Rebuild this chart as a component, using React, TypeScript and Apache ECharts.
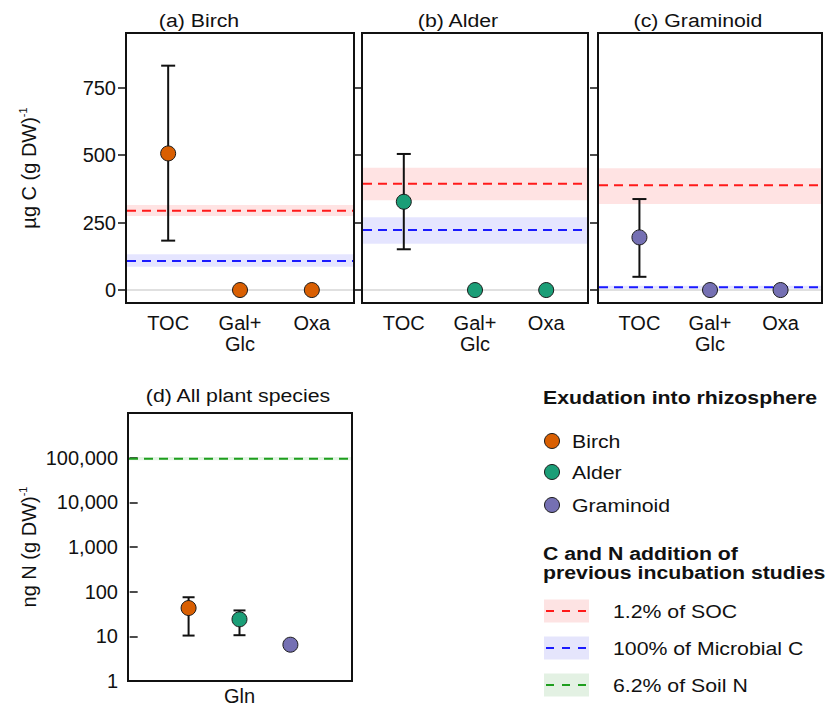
import React, { useEffect, useRef } from "react";
import * as echarts from "echarts";

// ---------- data ----------
const carbonCats = ["TOC", "Gal+\nGlc", "Oxa"];
const panelTitles = ["(a) Birch", "(b) Alder", "(c) Graminoid", "(d) All plant species"];
const species = ["Birch", "Alder", "Graminoid"];
const speciesColors = ["#D95F02", "#1B9E77", "#7570B3"];

// carbon exudation per panel (TOC, Gal+Glc, Oxa)
const birchC = [506, 0, 0];
const alderC = [327, 0, 0];
const graminoidC = [195, 0, 0];
const carbonMeans = [birchC, alderC, graminoidC];
// TOC error bars per species
const tocLow = [183, 151, 49];
const tocHigh = [831, 504, 337];

// reference lines per panel: 1.2% of SOC
const socMid = [294, 394, 388];
const socLow = [274, 333, 319];
const socHigh = [315, 453, 451];
// 100% of microbial C
const micMid = [108, 222, 10];
const micLow = [86, 171, 5];
const micHigh = [133, 270, 16];

// nitrogen (Gln) per species
const glnMean = [43, 24, 6.5];
const glnLow = [10.4, 10.6, null];
const glnHigh = [75, 38, null];
// 6.2% of soil N
const soilNMid = 95000;
const soilNLow = 88000;
const soilNHigh = 103000;

const cTicks = [0, 250, 500, 750];
const nTicks = [1, 10, 100, 1000, 10000, 100000];

const FONT = "Liberation Sans, Arial, Helvetica, sans-serif";
const TXT = "#111";
const RED = "#FF1A1A";
const BLUE = "#1A1AFF";
const GREEN = "#1E9E1E";
const RED_BAND = "rgba(255,0,0,0.11)";
const BLUE_BAND = "rgba(0,0,255,0.10)";
const GREEN_BAND = "rgba(0,150,0,0.10)";
const AX_FS = 20;

const grids = [
  { left: 126, top: 33, width: 228, height: 270 },
  { left: 362, top: 33, width: 226, height: 270 },
  { left: 598, top: 33, width: 224, height: 270 },
  { left: 128, top: 413, width: 224, height: 268 },
];

function refRender(color: string, band: string) {
  return (params: any, api: any) => {
    const cs = params.coordSys;
    const x = api.value(0);
    const yLo = api.coord([x, api.value(1)])[1];
    const yMid = api.coord([x, api.value(2)])[1];
    const yHi = api.coord([x, api.value(3)])[1];
    return {
      type: "group",
      children: [
        {
          type: "rect",
          shape: { x: cs.x + 1, y: Math.min(yLo, yHi), width: cs.width - 2, height: Math.abs(yLo - yHi) },
          style: { fill: band },
        },
        {
          type: "line",
          shape: { x1: cs.x + 1, y1: yMid, x2: cs.x + cs.width - 1, y2: yMid },
          style: { stroke: color, lineWidth: 2, lineDash: [9, 6] },
        },
      ],
    };
  };
}

function zeroRender(params: any, api: any) {
  const cs = params.coordSys;
  const y = api.coord([api.value(0), api.value(1)])[1];
  return {
    type: "line",
    shape: { x1: cs.x + 1, y1: y, x2: cs.x + cs.width - 1, y2: y },
    style: { stroke: "#d6d6d6", lineWidth: 1.5 },
  };
}

function errRender(hw: number) {
  return (params: any, api: any) => {
    const x = api.value(0);
    const top = api.coord([x, api.value(2)]);
    const bot = api.coord([x, api.value(1)]);
    const st = { stroke: "#111", lineWidth: 2 };
    return {
      type: "group",
      children: [
        { type: "line", shape: { x1: top[0], y1: top[1], x2: bot[0], y2: bot[1] }, style: st },
        { type: "line", shape: { x1: top[0] - hw, y1: top[1], x2: top[0] + hw, y2: top[1] }, style: st },
        { type: "line", shape: { x1: bot[0] - hw, y1: bot[1], x2: bot[0] + hw, y2: bot[1] }, style: st },
      ],
    };
  };
}

function buildOption() {
  const yName = (t: string) => `{n|${t}}{s|-1}`;
  const nameRich = {
    n: { fontSize: 20, fontFamily: FONT, color: TXT, lineHeight: 23 },
    s: { fontSize: 11, fontFamily: FONT, color: TXT, verticalAlign: "top", lineHeight: 23 },
  };

  const xAxis: any[] = [];
  const yAxis: any[] = [];
  const series: any[] = [];

  for (let p = 0; p < 3; p++) {
    xAxis.push({
      type: "value",
      gridIndex: p,
      min: 0.413,
      max: 3.587,
      splitLine: { show: false },
      axisLine: { show: false },
      axisTick: { show: false },
      axisLabel: {
        customValues: [1, 2, 3],
        formatter: (v: number) => carbonCats[Math.round(v) - 1] ?? "",
        fontSize: AX_FS,
        fontFamily: FONT,
        color: TXT,
        lineHeight: 21,
        margin: 9,
      },
    });
    yAxis.push({
      type: "value",
      gridIndex: p,
      min: -48,
      max: 952,
      splitLine: { show: false },
      axisLine: { show: false },
      axisTick: { show: true, customValues: cTicks, length: 8, lineStyle: { color: "#111", width: 1.5 } },
      axisLabel: {
        show: p === 0,
        customValues: cTicks,
        fontSize: AX_FS,
        fontFamily: FONT,
        color: TXT,
        margin: 10,
      },
      name: p === 0 ? yName("µg C (g DW)") : "",
      nameLocation: "middle",
      nameGap: 86,
      nameRotate: 90,
      nameTextStyle: { rich: nameRich },
    });

    series.push({
      type: "custom",
      xAxisIndex: p,
      yAxisIndex: p,
      z: 1,
      silent: true,
      data: [[2, 0]],
      renderItem: zeroRender,
    });
    series.push({
      type: "custom",
      xAxisIndex: p,
      yAxisIndex: p,
      z: 2,
      silent: true,
      encode: { x: 0, y: [1, 2, 3] },
      data: [[2, socLow[p], socMid[p], socHigh[p]]],
      renderItem: refRender(RED, RED_BAND),
    });
    series.push({
      type: "custom",
      xAxisIndex: p,
      yAxisIndex: p,
      z: 2,
      silent: true,
      encode: { x: 0, y: [1, 2, 3] },
      data: [[2, micLow[p], micMid[p], micHigh[p]]],
      renderItem: refRender(BLUE, BLUE_BAND),
    });
    series.push({
      type: "custom",
      xAxisIndex: p,
      yAxisIndex: p,
      z: 3,
      silent: true,
      encode: { x: 0, y: [1, 2] },
      data: [[1, tocLow[p], tocHigh[p]]],
      renderItem: errRender(7),
    });
    series.push({
      type: "scatter",
      name: species[p],
      xAxisIndex: p,
      yAxisIndex: p,
      z: 4,
      symbol: "circle",
      symbolSize: 15,
      itemStyle: { color: speciesColors[p], borderColor: "#1a1a1a", borderWidth: 1, opacity: 1 },
      data: carbonMeans[p].map((v, i) => [i + 1, v]),
    });
  }

  // panel d
  xAxis.push({
    type: "value",
    gridIndex: 3,
    min: -0.19,
    max: 4.21,
    splitLine: { show: false },
    axisLine: { show: false },
    axisTick: { show: false },
    axisLabel: {
      customValues: [2],
      formatter: () => "Gln",
      fontSize: AX_FS,
      fontFamily: FONT,
      color: TXT,
      margin: 5,
    },
  });
  yAxis.push({
    type: "log",
    logBase: 10,
    gridIndex: 3,
    min: 1,
    max: 1000000,
    splitLine: { show: false },
    axisLine: { show: false },
    axisTick: { show: true, customValues: nTicks, length: 8, lineStyle: { color: "#111", width: 1.5 } },
    axisLabel: {
      customValues: nTicks,
      formatter: (v: number) => Math.round(v).toLocaleString("en-US"),
      fontSize: AX_FS,
      fontFamily: FONT,
      color: TXT,
      margin: 10,
    },
    name: yName("ng N (g DW)"),
    nameLocation: "middle",
    nameGap: 88,
    nameRotate: 90,
    nameTextStyle: { rich: nameRich },
  });
  series.push({
    type: "custom",
    xAxisIndex: 3,
    yAxisIndex: 3,
    z: 2,
    silent: true,
    encode: { x: 0, y: [1, 2, 3] },
    data: [[2, soilNLow, soilNMid, soilNHigh]],
    renderItem: refRender(GREEN, GREEN_BAND),
  });
  series.push({
    type: "custom",
    xAxisIndex: 3,
    yAxisIndex: 3,
    z: 3,
    silent: true,
    encode: { x: 0, y: [1, 2] },
    data: glnMean
      .map((_, i) => (glnLow[i] != null ? [i + 1, glnLow[i], glnHigh[i]] : null))
      .filter((d) => d != null),
    renderItem: errRender(6),
  });
  species.forEach((s, i) => {
    series.push({
      type: "scatter",
      name: s,
      xAxisIndex: 3,
      yAxisIndex: 3,
      z: 4,
      symbol: "circle",
      symbolSize: 15,
      itemStyle: { color: speciesColors[i], borderColor: "#1a1a1a", borderWidth: 1, opacity: 1 },
      data: [[i + 1, glnMean[i]]],
    });
  });

  // ---------- titles & legend via graphic ----------
  const txt = (text: string, x: number, y: number, opts: any = {}) => ({
    type: "text",
    x,
    y,
    scaleX: 1.12,
    silent: true,
    style: {
      text,
      fontSize: 19,
      fontFamily: FONT,
      fill: TXT,
      align: opts.align ?? "left",
      textAlign: opts.align ?? "left",
      verticalAlign: "middle",
      textVerticalAlign: "middle",
      fontWeight: opts.bold ? "bold" : "normal",
    },
  });

  const titleX = [199, 458, 698, 238];
  const titleY = [20, 20, 20, 395];
  const graphic: any[] = panelTitles.map((t, i) => txt(t, titleX[i], titleY[i], { align: "center" }));

  graphic.push(txt("Exudation into rhizosphere", 543, 397, { bold: true }));
  const legY = [441, 472, 505];
  species.forEach((s, i) => {
    graphic.push({
      type: "circle",
      shape: { cx: 552, cy: legY[i], r: 7.5 },
      style: { fill: speciesColors[i], stroke: "#1a1a1a", lineWidth: 1 },
      silent: true,
    });
    graphic.push(txt(s, 572, legY[i]));
  });
  graphic.push(txt("C and N addition of", 543, 553, { bold: true }));
  graphic.push(txt("previous incubation studies", 543, 572, { bold: true }));
  const refLabels = ["1.2% of SOC", "100% of Microbial C", "6.2% of Soil N"];
  const refColors = [RED, BLUE, GREEN];
  const refBands = ["#FDE3E3", "#E5E5FC", "#E3F1E3"];
  const refY = [611, 648, 685];
  refLabels.forEach((l, i) => {
    graphic.push({
      type: "rect",
      shape: { x: 544, y: refY[i] - 11.5, width: 45, height: 23 },
      style: { fill: refBands[i] },
      silent: true,
    });
    graphic.push({
      type: "line",
      shape: { x1: 546, y1: refY[i], x2: 588, y2: refY[i] },
      style: { stroke: refColors[i], lineWidth: 2, lineDash: [8, 8] },
      silent: true,
    });
    graphic.push(txt(l, 613, refY[i]));
  });

  return {
    animation: false,
    backgroundColor: "#ffffff",
    textStyle: { fontFamily: FONT },
    grid: grids.map((g) => ({
      ...g,
      show: true,
      borderColor: "#111",
      borderWidth: 2,
      backgroundColor: "transparent",
      containLabel: false,
    })),
    xAxis,
    yAxis,
    series,
    graphic,
  };
}

export default function App() {
  const ref = useRef<HTMLDivElement>(null);
  useEffect(() => {
    if (!ref.current) return;
    const chart = echarts.init(ref.current, null, { renderer: "svg" });
    chart.setOption(buildOption() as any);
    return () => chart.dispose();
  }, []);
  return (
    <div
      ref={ref}
      style={{ position: "absolute", left: 0, top: 0, width: 829, height: 707, background: "#fff" }}
    />
  );
}
